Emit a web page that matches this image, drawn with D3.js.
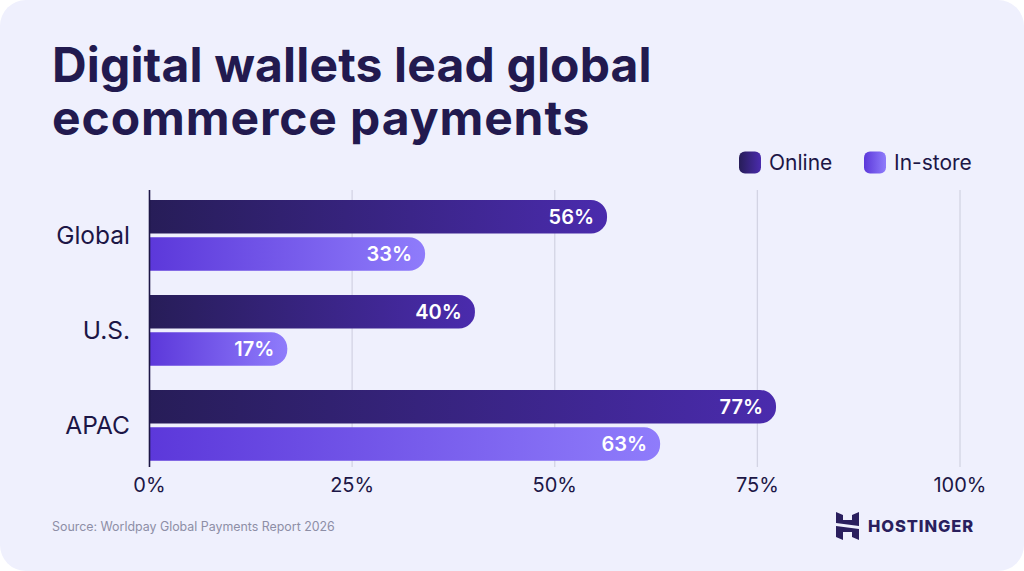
<!DOCTYPE html>
<html lang="en">
<head>
  <meta charset="UTF-8" />
  <title>Digital wallets lead global ecommerce payments</title>
  <style>
    html, body { margin: 0; padding: 0; background: #fff; }
    svg { display: block; font-family: Inter, "Open Sans", sans-serif; }
    .title { font-size: 48px; font-weight: 700; fill: #221a4f; }
    .cat { font-size: 24.5px; fill: #1c1646; }
    .legend-label { font-size: 21px; fill: #1c1646; }
    .tick-label { font-size: 20px; fill: #1c1646; }
    .value { font-size: 20px; font-weight: 600; fill: #fff; }
    .source { font-size: 12.4px; fill: #8d8ea6; }
    .brand { font-size: 16.5px; font-weight: 800; fill: #2a1f5e; letter-spacing: 0.9px; }
  </style>
</head>
<body>
  <svg width="1024" height="571"></svg>

  <script src="https://d3js.org/d3.v7.min.js"></script>
  <script>
    const categories = ["Global", "U.S.", "APAC"];
    const seriesNames = ["Online", "In-store"];
    // printed labels
    const online = [56, 40, 77];
    const inStore = [33, 17, 63];
    // bar ends as measured against the axis, they run a little off the labels
    const onlineDrawn = [56.45, 40.15, 77.3];
    const inStoreDrawn = [34, 17, 63];
    const ticks = [0, 25, 50, 75, 100];
    const titleLines = ["Digital wallets lead global", "ecommerce payments"];
    const source = "Source: Worldpay Global Payments Report 2026";

    const svg = d3.select("svg");

    const defs = svg.append("defs");
    function gradient(id, from, to) {
      const g = defs.append("linearGradient").attr("id", id);
      g.append("stop").attr("offset", "0%").attr("stop-color", from);
      g.append("stop").attr("offset", "100%").attr("stop-color", to);
    }
    gradient("grad-online", "#271d58", "#4a2bad");
    gradient("grad-store", "#5c38da", "#8f7cfb");

    // panel with rounded corners
    svg.append("rect")
      .attr("width", 1024).attr("height", 571)
      .attr("rx", 26)
      .attr("fill", "#eff0fd");

    const titleSpacing = [0.15, 0.9];
    svg.append("text")
      .attr("class", "title")
      .selectAll("tspan")
      .data(titleLines)
      .join("tspan")
      .attr("x", 52)
      .attr("y", (d, i) => 82 + i * 53)
      .style("letter-spacing", (d, i) => titleSpacing[i] + "px")
      .text(d => d);

    const x = d3.scaleLinear().domain([0, 100]).range([149.5, 960]);
    const yGroup = d3.scaleBand()
      .domain(categories)
      .range([190, 475])
      .paddingInner(0.0);
    const rowH = 37.3;
    const barH = 33.5;
    const groupTop = c => yGroup(c) + 10;

    // grid
    svg.selectAll(".grid")
      .data(ticks.slice(1))
      .join("line")
      .attr("class", "grid")
      .attr("x1", d => x(d)).attr("x2", d => x(d))
      .attr("y1", 190).attr("y2", 467)
      .attr("stroke", "#d3d4e4")
      .attr("stroke-width", 1.3);

    function barPath(x0, x1, y0, h) {
      const r = 16;
      const p = d3.path();
      p.moveTo(x0, y0);
      p.lineTo(x1 - r, y0);
      p.arcTo(x1, y0, x1, y0 + r, r);
      p.lineTo(x1, y0 + h - r);
      p.arcTo(x1, y0 + h, x1 - r, y0 + h, r);
      p.lineTo(x0, y0 + h);
      p.closePath();
      return p.toString();
    }

    const rows = [
      { labels: online, drawn: onlineDrawn, fill: "url(#grad-online)", offset: 0 },
      { labels: inStore, drawn: inStoreDrawn, fill: "url(#grad-store)", offset: 1 }
    ];

    rows.forEach(s => {
      const g = svg.append("g");
      g.selectAll("path")
        .data(s.drawn)
        .join("path")
        .attr("fill", s.fill)
        .attr("d", (d, i) => barPath(x(0), x(d), groupTop(categories[i]) + s.offset * rowH, barH));
      g.selectAll("text")
        .data(s.labels)
        .join("text")
        .attr("class", "value")
        .attr("text-anchor", "end")
        .attr("x", (d, i) => x(s.drawn[i]) - 13)
        .attr("y", (d, i) => groupTop(categories[i]) + s.offset * rowH + barH / 2 + 7)
        .text(d => d + "%");
    });

    // axis line on top of the bars
    svg.append("line")
      .attr("x1", x(0)).attr("x2", x(0))
      .attr("y1", 190).attr("y2", 467)
      .attr("stroke", "#1c1646")
      .attr("stroke-width", 1.6);

    svg.selectAll(".cat")
      .data(categories)
      .join("text")
      .attr("class", "cat")
      .attr("text-anchor", "end")
      .attr("x", 130)
      .attr("y", c => groupTop(c) + 44)
      .text(c => c);

    svg.selectAll(".tick-label")
      .data(ticks)
      .join("text")
      .attr("class", "tick-label")
      .attr("text-anchor", "middle")
      .attr("x", d => x(d))
      .attr("y", 492)
      .text(d => d + "%");

    // legend
    const legendX = [739, 864];
    const legendFill = ["url(#grad-online)", "url(#grad-store)"];
    seriesNames.forEach((name, i) => {
      svg.append("rect")
        .attr("x", legendX[i]).attr("y", 151.5)
        .attr("width", 22).attr("height", 22)
        .attr("rx", 6)
        .attr("fill", legendFill[i]);
      svg.append("text")
        .attr("class", "legend-label")
        .attr("x", legendX[i] + 30)
        .attr("y", 170)
        .text(name);
    });

    svg.append("text")
      .attr("class", "source")
      .attr("x", 52)
      .attr("y", 531)
      .text(source);

    // logo
    const logo = svg.append("g").attr("fill", "#2a1f5e").attr("transform", "translate(836,512)");
    logo.append("path").attr("d", "M0,0 L7,3 L7,8 L16,8 L16,3 L23,0 L23,14 L0,11 Z");
    logo.append("path").attr("d", "M0,14 L23,17 L23,28 L16,25 L16,20 L7,20 L7,28 L0,25 Z");

    svg.append("text")
      .attr("class", "brand")
      .attr("x", 868)
      .attr("y", 532)
      .text("HOSTINGER");
  </script>
</body>
</html>
